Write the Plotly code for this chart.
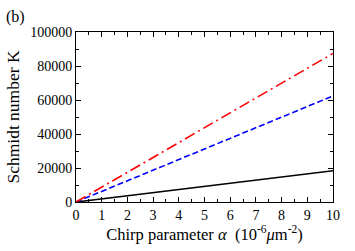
import plotly.graph_objects as go

alpha = [0, 2, 4, 6, 8, 10]
k_black = [0, 3700, 7400, 11000, 14700, 18400]
k_blue = [0, 12500, 25000, 37400, 49900, 62400]
k_red = [0, 17500, 35000, 52400, 69900, 87400]

x_ticks = [0, 1, 2, 3, 4, 5, 6, 7, 8, 9, 10]
y_ticks = [0, 20000, 40000, 60000, 80000, 100000]
y_labels = ["0", "20000", "40000", "60000", "80000", "100000"]

font = "'Liberation Serif', 'Times New Roman', Times, serif"

fig = go.Figure()
fig.add_trace(go.Scatter(x=alpha, y=k_black, mode="lines",
                         line=dict(color="black", width=1.6)))
fig.add_trace(go.Scatter(x=alpha, y=k_blue, mode="lines",
                         line=dict(color="blue", width=1.6, dash="6px,3px")))
fig.add_trace(go.Scatter(x=alpha, y=k_red, mode="lines",
                         line=dict(color="red", width=1.6, dash="11px,4px,2px,4px")))

axis_common = dict(showgrid=False, zeroline=False, showline=True, linecolor="black",
                   linewidth=1, mirror="ticks", ticks="inside", ticklen=5,
                   tickcolor="black", tickfont=dict(family=font, size=14, color="black"))

fig.update_xaxes(range=[0, 10], tickvals=x_ticks,
                 minor=dict(ticks="inside", ticklen=3, dtick=0.5, tickcolor="black"),
                 title=dict(text="Chirp parameter <i>α</i>  (10<sup>-6</sup><i>μ</i>m<sup>-2</sup>)",
                            font=dict(family=font, size=16.5, color="black"), standoff=5),
                 **axis_common)
fig.update_yaxes(range=[0, 100000], tickvals=y_ticks, ticktext=y_labels,
                 minor=dict(ticks="inside", ticklen=3, dtick=10000, tickcolor="black"),
                 title=dict(text="Schmidt number K",
                            font=dict(family=font, size=17.5, color="black"), standoff=6),
                 **axis_common)

fig.add_annotation(text="(b)", x=-0.28, y=1.155, xref="paper", yref="paper",
                   xanchor="left", yanchor="top", showarrow=False,
                   font=dict(family=font, size=16, color="black"))

fig.update_layout(width=355, height=251, showlegend=False,
                  margin=dict(l=74, r=22, t=32, b=49),
                  plot_bgcolor="white", paper_bgcolor="white")

fig.write_html("out.html", config={"displayModeBar": False},
               post_script="document.body.style.margin='0';document.body.style.overflow='hidden';")
